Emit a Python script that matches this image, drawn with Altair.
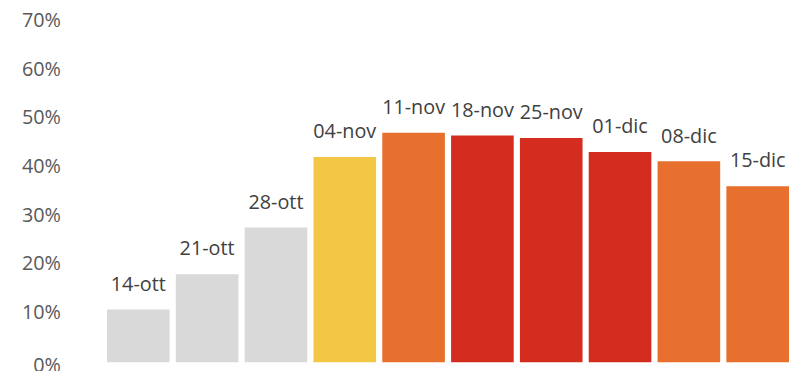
import altair as alt
import pandas as pd

weeks = ["14-ott", "21-ott", "28-ott", "04-nov", "11-nov", "18-nov", "25-nov", "01-dic", "08-dic", "15-dic"]
values = [0.1085, 0.181, 0.277, 0.422, 0.472, 0.466, 0.461, 0.432, 0.413, 0.362]
levels = ["grigio", "grigio", "grigio", "giallo", "arancione", "rosso", "rosso", "rosso", "arancione", "arancione"]

level_domain = ["grigio", "giallo", "arancione", "rosso"]
level_colors = ["#d9d9d9", "#f2c744", "#e8702e", "#d42c1f"]

df = pd.DataFrame({"week": weeks, "value": values, "level": levels})

x = alt.X("week:N", sort=weeks, axis=None,
          scale=alt.Scale(paddingInner=0.09, paddingOuter=0))
y = alt.Y("value:Q",
          scale=alt.Scale(domain=[0, 0.7], nice=False),
          axis=alt.Axis(values=[0, 0.1, 0.2, 0.3, 0.4, 0.5, 0.6, 0.7], format=".0%",
                        domain=False, ticks=False, grid=False, title=None,
                        labelFont="Open Sans", labelFontSize=20, labelColor="#595959",
                        labelPadding=47, labelFlush=False, labelBaseline="top",
                        labelOffset=alt.expr("datum.value == 0 ? -7 : -11")))

bars = alt.Chart(df).mark_bar().encode(
    x=x, y=y,
    color=alt.Color("level:N", scale=alt.Scale(domain=level_domain, range=level_colors), legend=None),
)

labels = alt.Chart(df).mark_text(
    font="Open Sans", fontSize=20, color="#404040", baseline="alphabetic", dy=-19
).encode(x=x, y=y, text="week:N")

chart = (bars + labels).properties(
    width=689, height=344,
    autosize=alt.AutoSizeParams(type="none"),
    padding={"left": 100, "top": 12, "right": 0, "bottom": 7},
).configure_view(stroke=None)

chart.save("out.html", embed_options={"renderer": "svg", "actions": False})
